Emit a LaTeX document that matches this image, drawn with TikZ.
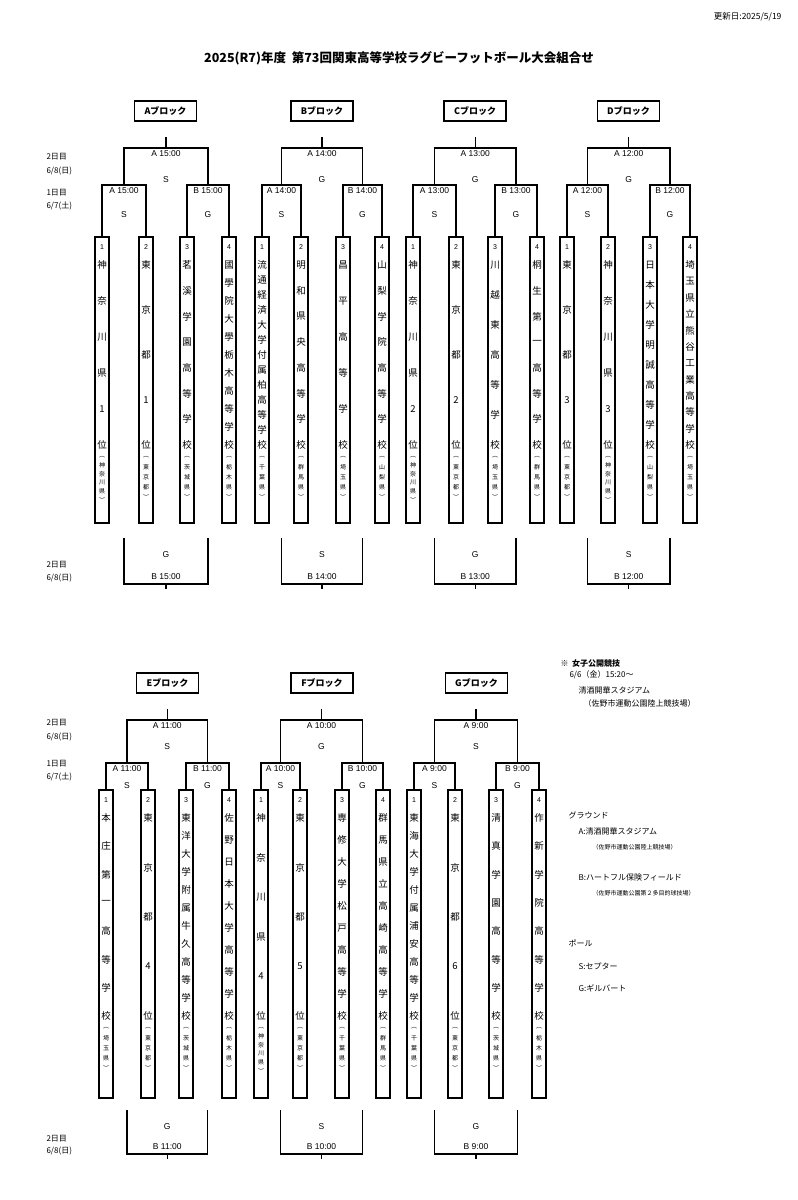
\documentclass[tikz,border=0pt]{standalone}
\usepackage{fontspec}
\setmainfont{Noto Sans CJK JP}
\newfontfamily\lab{Liberation Sans}
\begin{document}
\begin{tikzpicture}[x=1pt,y=-1pt,line width=1.1pt,
  lbl/.style={inner sep=0pt,font=\fontsize{8}{8}\selectfont},
  tm/.style={inner sep=0pt,font=\lab\fontsize{8.5}{8.5}\selectfont},
  ch/.style={inner sep=0pt,font=\fontsize{9.5}{9.5}\selectfont},
  pf/.style={inner sep=0pt,font=\fontsize{6}{6}\selectfont},
  hdr/.style={draw,line width=1.8pt,minimum width=62pt,minimum height=20pt,inner sep=0pt,font=\bfseries\fontsize{9}{9}\selectfont}]
\useasboundingbox (0,0) rectangle (798,1200);
\newcommand\pairbr[7]{% xa xb y yb time ball yball
  \draw ({#1},{#4}) -- ({#1},{#3}) -- ({#2},{#3}) -- ({#2},{#4});
  \node[tm] at ({((#1)+(#2))/2},{#3+6}) {#5};
  \node[tm] at ({((#1)+(#2))/2},{#7}) {#6};}
\newcommand\finbr[8]{% xa xb y yb time ball yball tick
  \pairbr{#1}{#2}{#3}{#4}{#5}{#6}{#7}
  \draw ({((#1)+(#2))/2},{#3}) -- ({((#1)+(#2))/2},{#8});}
\newcommand\thirdbr[7]{% xa xb y1 y2 ball time tick
  \draw ({#1},{#3}) -- ({#1},{#4}) -- ({#2},{#4}) -- ({#2},{#3});
  \draw ({((#1)+(#2))/2},{#4}) -- ({((#1)+(#2))/2},{#7});
  \node[tm] at ({((#1)+(#2))/2},{#3+17}) {#5};
  \node[tm] at ({((#1)+(#2))/2},{#4-7}) {#6};}
\newcommand\team[7]{% x ytop ybot num chars pref ycharend
  \draw (#1-7,#2) rectangle (#1+7,#3);
  \node[tm,font=\lab\fontsize{7}{7}\selectfont] at (#1,#2+10) {#4};
  \foreach \c [count=\i] in {#5} {\global\let\nn\i}
  \foreach \c [count=\i] in {#5} {
    \pgfmathsetmacro\yy{\nn>1 ? #2+28+(#7-28)*(\i-1)/(\nn-1) : #2+28}
    \node[ch] at (#1,\yy) {\c};}
  \foreach \c [count=\i] in {︵,#6,︶} {\global\let\mm\i}
  \foreach \c [count=\i] in {︵,#6,︶} {
    \pgfmathsetmacro\yy{#2+#7+12+(\i-1)*(\mm>5?8.5:10)}
    \node[pf] at (#1,\yy) {\c};}}
% header
\node[lbl,font=\fontsize{8.5}{8.5}\selectfont,anchor=east] (upd) at (782,17) {更新日:2025/5/19};
\node[inner sep=0pt,font=\bfseries\fontsize{12.5}{12.5}\selectfont] (title) at (399,58) {2025(R7)年度\ \ 第73回関東高等学校ラグビーフットボール大会組合せ};
% left day labels
\foreach \y/\t in {157/{2日目},171/{6/8(日)},193/{1日目},206/{6/7(土)},565/{2日目},578/{6/8(日)},
                   723/{2日目},737/{6/8(日)},764/{1日目},777/{6/7(土)},1139/{2日目},1151/{6/8(日)}}
  \node[lbl,anchor=west] at (46,\y) {\t};
% ===== upper half =====
\def\UB#1#2#3#4#5#6#7#8{%
  \node[hdr] at ({(#2+#5)/2},111) {#1ブロック};
  \pairbr{#2}{#3}{185}{237}{A #6}{S}{215}
  \pairbr{#4}{#5}{185}{237}{B #6}{G}{215}
  \finbr{(#2+#3)/2}{(#4+#5)/2}{148}{185}{A #6}{#7}{180}{137}
  \thirdbr{(#2+#3)/2}{(#4+#5)/2}{538}{584}{#8}{B #6}{589}}
\UB{A}{102}{146}{187}{229}{15:00}{S}{G}
\UB{B}{262}{301}{343}{382}{14:00}{G}{S}
\UB{C}{413}{456}{495}{537}{13:00}{G}{G}
\UB{D}{567}{608}{650}{690}{12:00}{G}{S}
\def\LB#1#2#3#4#5#6#7#8{%
  \node[hdr] at ({(#2+#5)/2},683) {#1ブロック};
  \pairbr{#2}{#3}{763}{790}{A #6}{S}{786}
  \pairbr{#4}{#5}{763}{790}{B #6}{G}{786}
  \finbr{(#2+#3)/2}{(#4+#5)/2}{720}{763}{A #6}{#7}{747}{709}
  \thirdbr{(#2+#3)/2}{(#4+#5)/2}{1110}{1154}{#8}{B #6}{1159}}
\LB{E}{106}{148}{186}{229}{11:00}{S}{G}
\LB{F}{261}{300}{342}{383}{10:00}{G}{S}
\LB{G}{414}{455}{496}{539}{9:00}{S}{G}
% teams upper
\def\UT#1#2#3#4{\team{#1}{237}{523}{#2}{#3}{#4}{208}}
\UT{102}{1}{神,奈,川,県,1,位}{神,奈,川,県}
\UT{146}{2}{東,京,都,1,位}{東,京,都}
\UT{187}{3}{茗,溪,学,園,高,等,学,校}{茨,城,県}
\UT{229}{4}{國,學,院,大,學,栃,木,高,等,学,校}{栃,木,県}
\UT{262}{1}{流,通,経,済,大,学,付,属,柏,高,等,学,校}{千,葉,県}
\UT{301}{2}{明,和,県,央,高,等,学,校}{群,馬,県}
\UT{343}{3}{昌,平,高,等,学,校}{埼,玉,県}
\UT{382}{4}{山,梨,学,院,高,等,学,校}{山,梨,県}
\UT{413}{1}{神,奈,川,県,2,位}{神,奈,川,県}
\UT{456}{2}{東,京,都,2,位}{東,京,都}
\UT{495}{3}{川,越,東,高,等,学,校}{埼,玉,県}
\UT{537}{4}{桐,生,第,一,高,等,学,校}{群,馬,県}
\UT{567}{1}{東,京,都,3,位}{東,京,都}
\UT{608}{2}{神,奈,川,県,3,位}{神,奈,川,県}
\UT{650}{3}{日,本,大,学,明,誠,高,等,学,校}{山,梨,県}
\UT{690}{4}{埼,玉,県,立,熊,谷,工,業,高,等,学,校}{埼,玉,県}
% teams lower
\def\LT#1#2#3#4{\team{#1}{790}{1098}{#2}{#3}{#4}{226}}
\LT{106}{1}{本,庄,第,一,高,等,学,校}{埼,玉,県}
\LT{148}{2}{東,京,都,4,位}{東,京,都}
\LT{186}{3}{東,洋,大,学,附,属,牛,久,高,等,学,校}{茨,城,県}
\LT{229}{4}{佐,野,日,本,大,学,高,等,学,校}{栃,木,県}
\LT{261}{1}{神,奈,川,県,4,位}{神,奈,川,県}
\LT{300}{2}{東,京,都,5,位}{東,京,都}
\LT{342}{3}{専,修,大,学,松,戸,高,等,学,校}{千,葉,県}
\LT{383}{4}{群,馬,県,立,高,崎,高,等,学,校}{群,馬,県}
\LT{414}{1}{東,海,大,学,付,属,浦,安,高,等,学,校}{千,葉,県}
\LT{455}{2}{東,京,都,6,位}{東,京,都}
\LT{496}{3}{清,真,学,園,高,等,学,校}{茨,城,県}
\LT{539}{4}{作,新,学,院,高,等,学,校}{栃,木,県}
% notes
\node[lbl,anchor=west,font=\bfseries\fontsize{8}{8}\selectfont] at (560,663) {※\ \ 女子公開競技};
\node[lbl,anchor=west] at (569,675) {6/6（金）15:20〜};
\node[lbl,anchor=west] at (578,690) {清酒開華スタジアム};
\node[lbl,anchor=west] at (583,703) {（佐野市運動公園陸上競技場）};
\node[lbl,anchor=west] at (568,815) {グラウンド};
\node[lbl,anchor=west] at (578,831) {A:清酒開華スタジアム};
\node[lbl,anchor=west,font=\fontsize{6}{6}\selectfont] at (592,847) {（佐野市運動公園陸上競技場）};
\node[lbl,anchor=west] at (578,877) {B:ハートフル保険フィールド};
\node[lbl,anchor=west,font=\fontsize{6}{6}\selectfont] at (592,893) {（佐野市運動公園第２多目的球技場）};
\node[lbl,anchor=west] at (568,943) {ポール};
\node[lbl,anchor=west] at (578,966) {S:セプター};
\node[lbl,anchor=west] at (578,988) {G:ギルバート};
\end{tikzpicture}
\end{document}
